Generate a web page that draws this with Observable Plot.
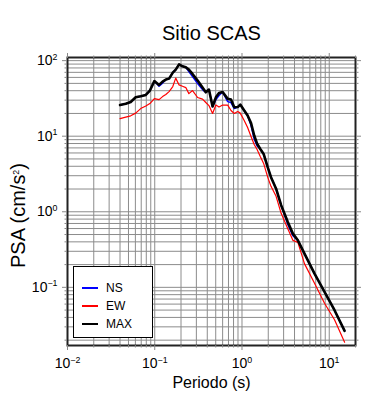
<!DOCTYPE html>
<html>
<head>
<meta charset="utf-8">
<script src="https://cdn.jsdelivr.net/npm/d3@7"></script>
<script src="https://cdn.jsdelivr.net/npm/@observablehq/plot@0.6"></script>
<style>
  html, body { margin: 0; padding: 0; background: #fff; }
  #wrap { position: relative; width: 390px; height: 400px; font-family: 'Liberation Sans', Arial, sans-serif; }
  #wrap svg { position: absolute; left: 0; top: 0; }
  #legend { position: absolute; left: 73px; top: 266px; width: 78px; height: 70px; border: 1.5px solid #000; background: #fff; }
  .item { position: absolute; left: 0; height: 14px; font-size: 12px; line-height: 14px; }
  .swatch { position: absolute; left: 8px; top: 6px; width: 16px; height: 2px; }
  .lab { position: absolute; left: 32px; top: 0; white-space: nowrap; }
</style>
</head>
<body>
<div id="wrap"></div>
<script>
// Data (period in s, PSA in cm/s^2)
const periods = [0.040,0.0465,0.053,0.0605,0.069,0.079,0.088,0.099,0.112,0.123,
  0.134,0.146,0.161,0.174,0.190,0.208,0.227,0.246,0.271,0.310,
  0.353,0.385,0.418,0.460,0.502,0.545,0.600,0.686,0.748,0.815,
  0.893,0.955,1.06,1.16,1.27,1.38,1.49,1.62,1.77,1.97,
  2.15,2.46,2.81,3.35,3.83,4.37,5.20,6.78,8.83,11.5,15.0];
const ns = [25.8,26.8,28.3,32.7,33.8,35.2,40.2,53.6,46.0,50.4,
  56.1,57.8,69.4,76.0,89.1,84.1,81.6,71.6,61.5,49.7,
  41.4,38.1,41.4,24.7,30.5,34.5,38.4,28.7,27.9,23.2,
  24.3,26.2,21.9,18.8,13.8,9.19,7.43,6.78,5.82,3.89,
  2.87,2.02,1.22,0.682,0.481,0.419,0.280,0.152,0.0869,0.0498,0.0265];
const ew = [17.1,17.9,18.6,20.2,23.2,25.1,27.0,31.5,30.5,33.4,
  35.6,38.9,45.4,58.7,47.7,45.8,44.0,36.6,40.2,32.5,
  31.0,27.9,25.4,20.0,25.8,24.3,25.8,25.8,21.9,20.0,
  21.2,20.2,16.1,13.0,9.91,7.76,6.67,5.39,4.36,2.87,
  2.17,1.60,0.953,0.598,0.419,0.394,0.206,0.113,0.0617,0.0373,0.0188];
const mx = [25.8,26.8,28.3,32.7,33.8,35.2,40.2,53.6,47.7,52.8,
  56.1,57.8,69.4,76.0,89.1,84.1,81.6,76.0,66.7,54.4,
  44.0,38.1,41.4,24.7,32.7,37.2,38.4,31.2,30.5,24.2,
  24.3,26.2,21.9,18.8,14.9,10.2,7.94,6.78,5.82,3.89,
  2.87,2.02,1.22,0.731,0.514,0.419,0.280,0.152,0.0869,0.0498,0.0265];

const seriesNames = ["NS", "EW", "MAX"];
const majorX = [0.01, 0.1, 1, 10];
const majorXLabels = ["10\u207B\u00B2", "10\u207B\u00B9", "10\u2070", "10\u00B9"];
const majorY = [0.1, 1, 10, 100];
const majorYLabels = ["10\u207B\u00B9", "10\u2070", "10\u00B9", "10\u00B2"];
const titleText = "Sitio SCAS";
const xLabel = "Periodo (s)";
const yLabel = "PSA (cm/s\u00B2)";

const xDomain = [0.01, 20];
const yDomain = [0.017, 110];

const colors = {NS: "#0000ff", EW: "#ff0000", MAX: "#000000"};
const widths = {NS: 1.5, EW: 1.2, MAX: 2.6};

function decadeTicks(domain, mults) {
  const out = [];
  for (let e = -3; e <= 3; e++) {
    for (const m of mults) {
      const v = +(m * Math.pow(10, e)).toPrecision(6);
      if (v >= domain[0] - 1e-12 && v <= domain[1] + 1e-12) out.push(v);
    }
  }
  return out;
}
const minorX = decadeTicks(xDomain, [2,3,4,5,6,7,8,9]);
const minorY = decadeTicks(yDomain, [2,3,4,5,6,7,8,9]);
const gridX = decadeTicks(xDomain, [1,2,3,4,5,6,7,8,9]);
const gridY = decadeTicks(yDomain, [1,2,3,4,5,6,7,8,9]);

const series = {NS: ns, EW: ew, MAX: mx};
const rows = seriesNames.map(name => periods.map((p, i) => ({p, v: series[name][i], s: name})));

const labX = new Map(majorX.map((v, i) => [v, majorXLabels[i]]));
const labY = new Map(majorY.map((v, i) => [v, majorYLabels[i]]));

const tickGray = "#888";
const minorLen = 2.5, majorLen = 5;

const chart = Plot.plot({
  width: 390,
  height: 400,
  marginLeft: 67,
  marginRight: 35,
  marginTop: 57,
  marginBottom: 55,
  style: {fontFamily: "'Liberation Sans', Arial, sans-serif", background: "white", color: "black"},
  x: {type: "log", domain: xDomain},
  y: {type: "log", domain: yDomain},
  marks: [
    Plot.ruleX(gridX, {stroke: "#8c8c8c", strokeWidth: 1}),
    Plot.ruleY(gridY, {stroke: "#8c8c8c", strokeWidth: 1}),
    ...rows.map((r, k) => Plot.line(r, {x: "p", y: "v", stroke: colors[seriesNames[k]], strokeWidth: widths[seriesNames[k]], strokeLinejoin: "round"})),
    Plot.frame({stroke: "#222", strokeWidth: 2}),
    // minor ticks, all sides
    Plot.axisX(minorX, {anchor: "bottom", tickSize: minorLen, tickFormat: () => "", stroke: tickGray, label: null}),
    Plot.axisX(minorX, {anchor: "top", tickSize: minorLen, tickFormat: () => "", stroke: tickGray, label: null}),
    Plot.axisY(minorY, {anchor: "left", tickSize: minorLen, tickFormat: () => "", stroke: tickGray, label: null}),
    Plot.axisY(minorY, {anchor: "right", tickSize: minorLen, tickFormat: () => "", stroke: tickGray, label: null}),
    // major ticks
    Plot.axisX(majorX, {anchor: "bottom", tickSize: majorLen, tickPadding: 8, tickFormat: d => labX.get(d), stroke: tickGray, fontSize: 14, label: null}),
    Plot.axisX(majorX, {anchor: "top", tickSize: majorLen, tickFormat: () => "", stroke: tickGray, label: null}),
    Plot.axisY(majorY, {anchor: "left", tickSize: majorLen, tickPadding: 5, tickFormat: d => labY.get(d), stroke: tickGray, fontSize: 14, label: null}),
    Plot.axisY(majorY, {anchor: "right", tickSize: majorLen, tickFormat: () => "", stroke: tickGray, label: null}),
    // titles
    Plot.text([titleText], {text: d => d, frameAnchor: "top", textAnchor: "middle", lineAnchor: "middle", dy: -24, fontSize: 20}),
    Plot.text([xLabel], {text: d => d, frameAnchor: "bottom", textAnchor: "middle", lineAnchor: "middle", dy: 37, fontSize: 16}),
    Plot.text([yLabel], {text: d => d, frameAnchor: "left", textAnchor: "middle", lineAnchor: "middle", rotate: -90, dx: -49, dy: 14, fontSize: 20})
  ]
});

// Turn Unicode superscripts into real raised tspans (text stays text)
const supMap = {"\u207B": "\u2212", "\u2070": "0", "\u00B9": "1", "\u00B2": "2"};
const supRe = /[\u207B\u2070\u00B9\u00B2]+/;
chart.querySelectorAll("text").forEach(t => {
  if (t.querySelector("tspan")) return;
  const s = t.textContent;
  const m = s.match(supRe);
  if (!m) return;
  const before = s.slice(0, m.index), sup = m[0], after = s.slice(m.index + sup.length);
  const fs = parseFloat(getComputedStyle(t).fontSize) || 13;
  const supSize = fs * 0.68, rise = fs * 0.42;
  const ns_ = "http://www.w3.org/2000/svg";
  t.textContent = "";
  const a = document.createElementNS(ns_, "tspan"); a.textContent = before; t.appendChild(a);
  const b = document.createElementNS(ns_, "tspan");
  b.textContent = [...sup].map(c => supMap[c]).join("");
  b.setAttribute("dy", (-rise).toFixed(2));
  b.setAttribute("font-size", supSize.toFixed(2));
  t.appendChild(b);
  if (after) {
    const c = document.createElementNS(ns_, "tspan"); c.textContent = after;
    c.setAttribute("dy", rise.toFixed(2)); t.appendChild(c);
  }
});

const wrap = document.getElementById("wrap");
wrap.appendChild(chart);

// Legend
const legend = document.createElement("div");
legend.id = "legend";
seriesNames.forEach((name, i) => {
  const item = document.createElement("div");
  item.className = "item";
  item.style.top = (14 + i * 18) + "px";
  item.style.width = "100%";
  const sw = document.createElement("span");
  sw.className = "swatch";
  sw.style.background = colors[name];
  const lb = document.createElement("span");
  lb.className = "lab";
  lb.textContent = name;
  item.appendChild(sw);
  item.appendChild(lb);
  legend.appendChild(item);
});
wrap.appendChild(legend);
</script>
</body>
</html>
